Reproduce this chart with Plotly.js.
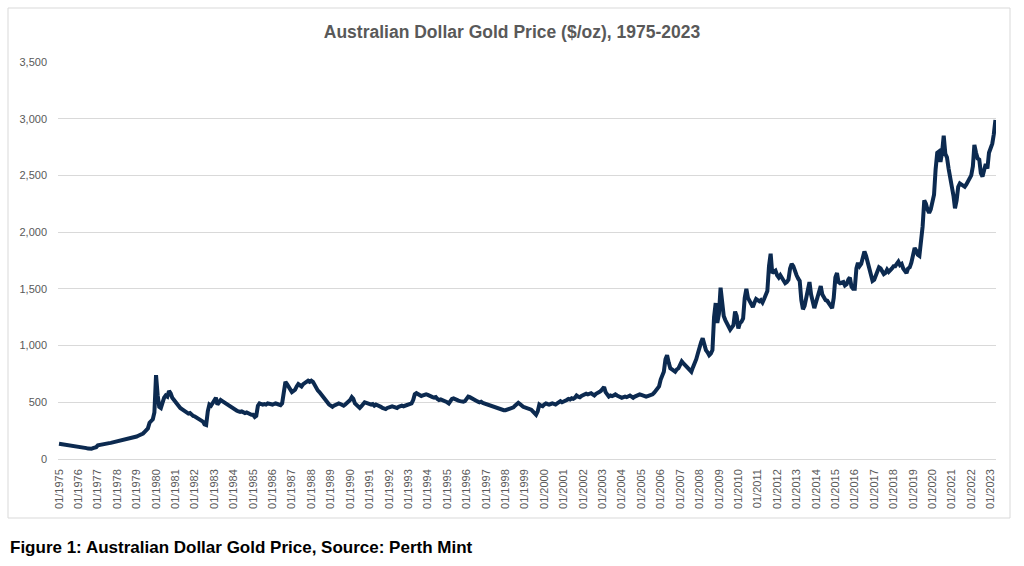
<!DOCTYPE html>
<html>
<head>
<meta charset="utf-8">
<script src="https://cdn.plot.ly/plotly-3.0.1.min.js"></script>
<style>
  html, body { margin: 0; padding: 0; background: #ffffff; }
  #chart { width: 1024px; height: 566px; }
</style>
</head>
<body>
<div id="chart"></div>
<script>
// monthly A$ gold price, Jan 1975 .. Apr 2023
const START_YEAR = 1975;
const prices = [
  // 1975
  135, 133, 132, 130, 128, 127, 125, 122, 118, 115, 113, 112,
  // 1976
  110, 108, 106, 104, 100, 96, 92, 88, 90, 96, 100, 104,
  // 1977
  120, 124, 128, 130, 134, 136, 138, 140, 142, 145, 148, 152,
  // 1978
  155, 158, 160, 163, 166, 168, 172, 176, 182, 188, 190, 195,
  // 1979
  198, 205, 210, 215, 225, 240, 255, 270, 320, 340, 350, 410,
  // 1980
  740, 560, 460, 450, 500, 540, 560, 550, 600, 580, 540, 520,
  // 1981
  500, 480, 470, 450, 440, 430, 420, 410, 400, 405, 390, 380,
  // 1982
  375, 365, 355, 345, 340, 330, 305, 300, 420, 480, 470, 495,
  // 1983
  520, 540, 480, 500, 520, 510, 500, 490, 480, 470, 460, 455,
  // 1984
  440, 430, 425, 420, 415, 420, 410, 405, 410, 400, 395, 390,
  // 1985
  390, 370, 380, 470, 490, 485, 480, 485, 480, 490, 485, 480,
  // 1986
  480, 485, 490, 485, 480, 475, 490, 580, 680, 660, 630, 610,
  // 1987
  590, 600, 610, 640, 660, 650, 640, 660, 670, 680, 690, 680,
  // 1988
  690, 680, 650, 620, 605, 590, 570, 550, 530, 515, 500, 480,
  // 1989
  470, 460, 470, 475, 480, 490, 485, 475, 470, 480, 495, 500,
  // 1990
  520, 545, 530, 490, 480, 460, 450, 465, 480, 500, 495, 490,
  // 1991
  490, 480, 485, 470, 480, 475, 465, 460, 450, 445, 440, 450,
  // 1992
  455, 460, 465, 460, 455, 450, 460, 465, 470, 465, 470, 475,
  // 1993
  480, 485, 490, 520, 570, 580, 570, 560, 555, 560, 565, 570,
  // 1994
  565, 555, 550, 545, 540, 545, 530, 520, 525, 520, 515, 510,
  // 1995
  500, 490, 510, 530, 535, 525, 520, 515, 510, 505, 505, 510,
  // 1996
  530, 550, 545, 535, 530, 520, 510, 505, 500, 505, 495, 490,
  // 1997
  480, 475, 470, 465, 460, 455, 450, 450, 445, 440, 435, 430,
  // 1998
  430, 435, 440, 445, 450, 455, 470, 490, 495, 485, 470, 460,
  // 1999
  455, 450, 445, 440, 435, 420, 400, 390, 420, 480, 470, 465,
  // 2000
  480, 490, 485, 480, 485, 490, 485, 480, 490, 500, 510, 500,
  // 2001
  505, 510, 520, 530, 525, 535, 530, 540, 560, 550, 545, 555,
  // 2002
  560, 570, 575, 570, 575, 580, 570, 560, 575, 580, 590, 600,
  // 2003
  620, 635, 590, 560, 550, 560, 555, 560, 570, 560, 550, 545,
  // 2004
  540, 545, 550, 545, 555, 560, 550, 540, 550, 560, 565, 570,
  // 2005
  565, 560, 555, 550, 555, 560, 565, 570, 585, 600, 620, 640,
  // 2006
  700, 740, 770, 880, 915, 850, 800, 790, 780, 770, 790, 800,
  // 2007
  830, 860, 845, 830, 820, 810, 790, 770, 810, 840, 880, 930,
  // 2008
  990, 1030, 1065, 1010, 960, 940, 915, 930, 960, 1250, 1375, 1200,
  // 2009
  1280, 1510, 1400, 1260, 1225, 1190, 1160, 1140, 1160, 1180, 1300, 1260,
  // 2010
  1150, 1200, 1210, 1240, 1420, 1500, 1420, 1390, 1360, 1340, 1380, 1410,
  // 2011
  1400, 1390, 1400, 1380, 1410, 1440, 1480, 1700, 1810, 1640, 1650, 1660,
  // 2012
  1620, 1600, 1620, 1590, 1560, 1550, 1560, 1580, 1680, 1720, 1700, 1650,
  // 2013
  1620, 1590, 1570, 1400, 1320, 1350, 1430, 1520, 1560, 1450, 1390, 1330,
  // 2014
  1380, 1440, 1480, 1525, 1450, 1420, 1400, 1395, 1370, 1360, 1330, 1420,
  // 2015
  1600, 1640, 1560, 1550, 1560, 1560, 1530, 1540, 1580, 1600, 1520, 1500,
  // 2016
  1500, 1680, 1730, 1700, 1720, 1770, 1830, 1790, 1740, 1680, 1620, 1570,
  // 2017
  1580, 1620, 1640, 1690, 1680, 1660, 1630, 1640, 1670, 1650, 1660, 1680,
  // 2018
  1700, 1700, 1720, 1740, 1710, 1720, 1680, 1650, 1640, 1680, 1690, 1730,
  // 2019
  1800, 1860, 1840, 1800, 1790, 1920, 2050, 2280, 2250, 2200, 2170, 2200,
  // 2020
  2250, 2330, 2550, 2700, 2710, 2620, 2700, 2850, 2690, 2660, 2560, 2500,
  // 2021
  2400, 2320, 2210, 2280, 2400, 2430, 2420, 2410, 2400, 2420, 2450, 2490,
  // 2022
  2500, 2580, 2770, 2700, 2650, 2640, 2520, 2490, 2560, 2600, 2560, 2700,
  // 2023
  2740, 2780, 2860, 2990
];

const dates = prices.map((_, i) => {
  const y = START_YEAR + Math.floor(i / 12);
  const m = (i % 12) + 1;
  return `${y}-${String(m).padStart(2, '0')}-01`;
});

const COLORS = {
  line: '#0c2a50',
  grid: '#d9d9d9',
  text: '#595959',
  border: '#d9d9d9'
};

const W = 1024, H = 566;
const M = { l: 58, r: 28, t: 62, b: 107 };
const plotW = W - M.l - M.r;
const plotH = H - M.t - M.b;
const px = (x) => (x - M.l) / plotW;
const py = (y) => (H - M.b - y) / plotH;

const traces = [{
  x: dates,
  y: prices,
  type: 'scatter',
  mode: 'lines',
  line: { color: COLORS.line, width: 4 },
  hoverinfo: 'x+y'
}];

const layout = {
  width: W,
  height: H,
  margin: M,
  paper_bgcolor: '#ffffff',
  plot_bgcolor: '#ffffff',
  showlegend: false,
  font: { family: 'Liberation Sans, Arial, sans-serif', size: 11, color: COLORS.text },
  title: {
    text: '<b>Australian Dollar Gold Price ($/oz), 1975-2023</b>',
    font: { family: 'Liberation Sans Narrow, Arial Narrow, Liberation Sans, sans-serif', size: 17.5, color: COLORS.text },
    x: 0.5,
    xref: 'container',
    xanchor: 'center',
    y: 1 - 32 / H,
    yref: 'container',
    yanchor: 'middle'
  },
  xaxis: {
    type: 'date',
    range: ['1974-12-13', '2023-04-12'],
    tick0: '1975-01-01',
    dtick: 'M12',
    tickformat: '%m/%Y',
    tickangle: -90,
    showgrid: false,
    zeroline: false,
    showline: false,
    ticks: '',
    ticklen: 0,
    ticklabelstandoff: 7,
    tickfont: { size: 11, color: COLORS.text }
  },
  yaxis: {
    range: [0, 3500],
    dtick: 500,
    tickformat: ',d',
    gridcolor: COLORS.grid,
    gridwidth: 1,
    zeroline: true,
    zerolinecolor: COLORS.grid,
    zerolinewidth: 1,
    showline: false,
    ticks: '',
    ticklabelstandoff: 10,
    tickfont: { size: 11, color: COLORS.text }
  },
  shapes: [{
    type: 'rect',
    xref: 'paper',
    yref: 'paper',
    x0: px(8),
    x1: px(1010),
    y0: py(518),
    y1: py(8),
    line: { color: COLORS.border, width: 1 },
    fillcolor: 'rgba(0,0,0,0)',
    layer: 'below'
  }],
  annotations: [{
    text: '<b>Figure 1: Australian Dollar Gold Price, Source: Perth Mint</b>',
    xref: 'paper',
    yref: 'paper',
    x: px(8),
    y: py(547),
    xanchor: 'left',
    yanchor: 'middle',
    showarrow: false,
    font: { family: 'Liberation Sans, Arial, sans-serif', size: 17, color: '#000000' }
  }]
};

const config = { displayModeBar: false, responsive: false };

Plotly.newPlot('chart', traces, layout, config);
</script>
</body>
</html>
